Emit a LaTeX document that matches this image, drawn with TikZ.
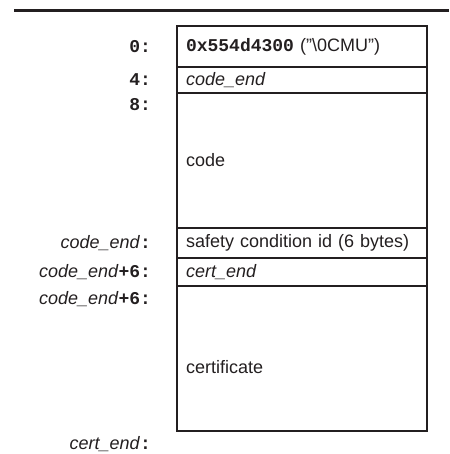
\documentclass[tikz,border=0pt]{standalone}
\usepackage{fontspec}
\setmainfont{Liberation Sans}
\setsansfont{Liberation Sans}
\setmonofont{Liberation Mono}
\usetikzlibrary{positioning}
\definecolor{ink}{HTML}{231F20}
\newcommand{\addrtt}[1]{\texttt{\bfseries #1}}
\newcommand{\addrit}[1]{\textit{#1}}

\begin{document}
\begin{tikzpicture}[x=1pt, y=-1pt, node distance=0pt,
  every node/.style={text=ink, font=\fontsize{18}{21}\selectfont},
  field/.style={draw=ink, line width=1.8pt, outer sep=0pt, inner xsep=9pt, inner ysep=1pt,
    text width=232pt, align=left, minimum width=250pt},
  addr/.style={inner sep=0pt, outer sep=0pt, align=right}]
  \useasboundingbox (0,0) rectangle (449,454);
  \draw[ink, line width=3pt] (14,11) -- (449,11);

  % the layout of the file
  \node[field, minimum height=41pt, anchor=north west] (magic) at (177,26)
    {\addrtt{0x554d4300} ("\textbackslash 0CMU")};
  \node[field, minimum height=26pt, below=of magic] (codeend) {\addrit{code\_end}};
  \node[field, minimum height=135pt, below=of codeend] (code) {code};
  \node[field, minimum height=30pt, below=of code] (safety) {safety condition id (6 bytes)};
  \node[field, minimum height=28pt, below=of safety] (certend) {\addrit{cert\_end}};
  \node[field, minimum height=145pt, below=of certend] (cert)
    {\raisebox{-9pt}[\height][\depth]{certificate}};

  % offsets
  \node[addr, left=26pt of magic] (o0) {\addrtt{0:}};
  \node[addr, left=26pt of codeend] (o4) {\addrtt{4:}};
  \node[addr, below left=5pt and 26pt of code.north west] (o8) {\addrtt{8:}};
  \node[addr, left=26pt of safety] (ocode) {\addrit{code\_end}\addrtt{:}};
  \node[addr, left=26pt of certend] (ocodea) {\addrit{code\_end}\addrtt{+6:}};
  \node[addr, below left=5pt and 26pt of cert.north west] (ocodeb) {\addrit{code\_end}\addrtt{+6:}};
  \node[addr, below left=5pt and 26pt of cert.south west] (ocert) {\addrit{cert\_end}\addrtt{:}};
\end{tikzpicture}
\end{document}
